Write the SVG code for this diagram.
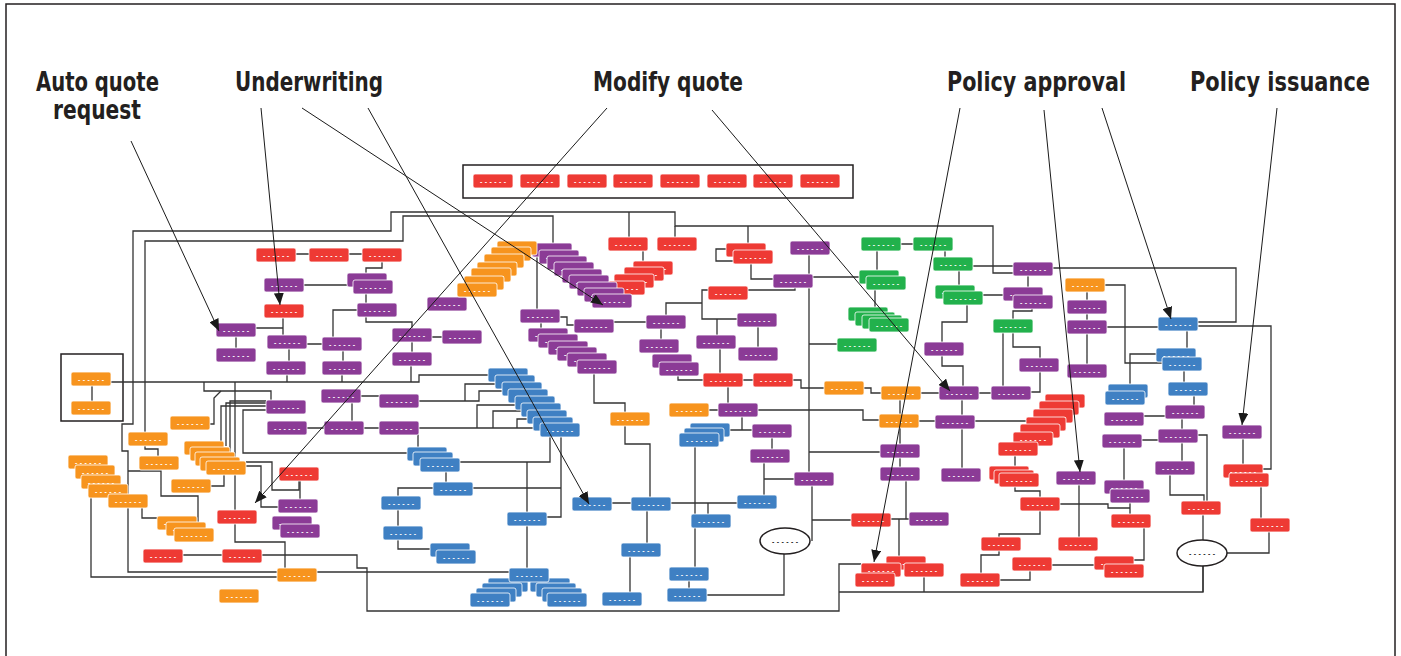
<svg xmlns="http://www.w3.org/2000/svg" width="1401" height="656" viewBox="0 0 1401 656">
<style>
.R{fill:#EE3A34}.P{fill:#8B3B96}.O{fill:#F7941E}.B{fill:#3F80C3}.G{fill:#22B14C}
rect.n{stroke:#fff;stroke-width:.8}
.t{font-family:'Liberation Sans',sans-serif;font-weight:bold;font-size:7px;fill:#fff;letter-spacing:2.4px;text-anchor:middle}
.te{font-family:'Liberation Sans',sans-serif;font-weight:bold;font-size:7px;fill:#222;letter-spacing:2.4px;text-anchor:middle}
#connectors path{fill:none;stroke:#333;stroke-width:1.3}
#pointers path{fill:none;stroke:#1a1a1a;stroke-width:1}
.title{font-family:'Liberation Sans Narrow','DejaVu Sans Condensed','Liberation Sans',sans-serif;font-weight:bold;font-size:27px;fill:#231f20}
.frame{fill:none;stroke:#231f20;stroke-width:1.5}
.ell{fill:#fff;stroke:#231f20;stroke-width:1.5}
</style>
<defs>
<marker id="ah" viewBox="0 0 12 10" refX="12" refY="5" markerWidth="12" markerHeight="10" markerUnits="userSpaceOnUse" orient="auto"><path d="M0 0L12 5L0 10z" fill="#1a1a1a"/></marker>
</defs>
<rect width="1401" height="656" fill="#fff"/>
<rect class="frame" x="6" y="4" width="1389" height="720"/>
<g id="titles">
<text class="title" x="36" y="91" textLength="123" lengthAdjust="spacingAndGlyphs">Auto quote</text>
<text class="title" x="53" y="119" textLength="88" lengthAdjust="spacingAndGlyphs">request</text>
<text class="title" x="235" y="91" textLength="148" lengthAdjust="spacingAndGlyphs">Underwriting</text>
<text class="title" x="593" y="91" textLength="150" lengthAdjust="spacingAndGlyphs">Modify quote</text>
<text class="title" x="947" y="91" textLength="179" lengthAdjust="spacingAndGlyphs">Policy approval</text>
<text class="title" x="1190" y="91" textLength="180" lengthAdjust="spacingAndGlyphs">Policy issuance</text>
</g>
<rect class="frame" x="463" y="165" width="390" height="33"/>
<rect class="frame" x="61" y="354" width="62" height="67"/>
<g id="connectors">
<path d="M1013 273H993V226H675V212H391V231H133V424H122V451H128V572H509"/>
<path d="M675 226V237"/>
<path d="M158 456V449H145V241H403V216H553V243"/>
<path d="M629 212V237M748 226V243"/>
<path d="M296 254H309M349 254H362"/>
<path d="M382 262V268H366V273"/>
<path d="M304 285H347M366 293V303"/>
<path d="M366 317V322H412V328"/>
<path d="M357 310H333V337"/>
<path d="M256 328H283M283 318V335M236 337V348M307 344H322"/>
<path d="M289 348V361M343 351V361M412 342V352M432 337H442"/>
<path d="M111 382H419V375H488"/>
<path d="M287 375V382M342 375V382M411 365V382M92 385V401"/>
<path d="M204 382V391H271V400"/>
<path d="M210 424H214V398L221 391"/>
<path d="M235 382V542H285V568"/>
<path d="M266 406H221V442M266 403H226V446M266 401H230V452"/>
<path d="M266 410H243V453H407"/>
<path d="M361 396H379M352 402V421M307 428H324M364 428H379"/>
<path d="M419 401H479V391H502M465 401V384H495"/>
<path d="M419 428H540M477 428V405H515M493 428V411H521M517 428V419H527"/>
<path d="M418 434V447M460 462H550V437M446 471V482"/>
<path d="M473 488H561V437M561 488V517H547M527 462V568"/>
<path d="M433 488H398V549H430"/>
<path d="M246 462H272V490H299V481M246 466H261V507H278"/>
<path d="M211 486H224V475M128 471H161V496H198V522M142 507V518H157"/>
<path d="M91 497V577H277M183 555H222"/>
<path d="M262 555H357V568H367V611H839V564H861"/>
<path d="M839 592H1203V566M924 577V592M300 481V499"/>
<path d="M537 257V309M560 317H567V325H574M614 322H646M541 323V328M643 250V261"/>
<path d="M666 315V303H702V290H708M702 303V319H737M717 319V335M758 326V347M661 328V339"/>
<path d="M678 375V380H703M743 380H753M793 380H801V388H824M720 349V373M728 387V403"/>
<path d="M594 373V403H625V412M625 426V444H650V497"/>
<path d="M709 410H718M758 410H863V420H879M742 417V430H730M742 430H752M772 438V449"/>
<path d="M764 463V495M764 479H794M612 503H631M671 503H737M695 447V567M708 503V514"/>
<path d="M647 510V543M630 557V592M689 581V588M707 595H784V554"/>
<path d="M809 254V472M809 452H880M812 277H859M809 344H837M812 485V541M812 520H851"/>
<path d="M751 263V279H773M726 249H716V261H733M795 288V290H748"/>
<path d="M877 251V270M901 244H913M945 251V257M875 290V307M973 266H1013M959 271V285M983 295H1003"/>
<path d="M967 305V322H942V342M942 356V366H963V386"/>
<path d="M1032 309V311H1013V319M1003 333V386M1013 333V347H1040V358M1040 372V392H1031M1028 276V287"/>
<path d="M1053 268H1236V322H1198M1198 326H1271V469H1263M1105 285H1125V363H1162"/>
<path d="M1087 292V300M1087 314V320M1087 334V364M1107 327H1158M1187 331V348M1156 354H1130V384"/>
<path d="M1184 371V382M1194 396V405M1144 416H1165M1182 419V429M1142 440H1158M1182 443V461M1124 448V480"/>
<path d="M1198 435H1207V501M1170 475V495H1204V501M1203 515V540M1203 566V592M1227 553H1269V532M1243 439V464M1261 487V518"/>
<path d="M1015 456V466M1015 487V491H1040V497M1060 504H1108V508H1130M1130 503V514"/>
<path d="M1040 511V534H999V537M999 551V555H981V573M1030 571V580H1000M1052 565H1094M1144 528V560H1134M1079 485V537"/>
<path d="M975 421H1026M962 400V415M962 429V468M900 400V414M900 428V444M900 458V467"/>
<path d="M906 481V519M891 519H909M899 519V556M864 388H871V393H881M921 393H939M979 393H991M919 421H935"/>
</g>
<g id="nodes">
<g id="n1"><rect class="n R" x="473" y="174" width="40" height="14" rx="2"/><text class="t" x="494.2" y="183.5">------</text></g>
<g id="n2"><rect class="n R" x="520" y="174" width="40" height="14" rx="2"/><text class="t" x="541.2" y="183.5">------</text></g>
<g id="n3"><rect class="n R" x="567" y="174" width="40" height="14" rx="2"/><text class="t" x="588.2" y="183.5">------</text></g>
<g id="n4"><rect class="n R" x="613" y="174" width="40" height="14" rx="2"/><text class="t" x="634.2" y="183.5">------</text></g>
<g id="n5"><rect class="n R" x="660" y="174" width="40" height="14" rx="2"/><text class="t" x="681.2" y="183.5">------</text></g>
<g id="n6"><rect class="n R" x="707" y="174" width="40" height="14" rx="2"/><text class="t" x="728.2" y="183.5">------</text></g>
<g id="n7"><rect class="n R" x="753" y="174" width="40" height="14" rx="2"/><text class="t" x="774.2" y="183.5">------</text></g>
<g id="n8"><rect class="n R" x="800" y="174" width="40" height="14" rx="2"/><text class="t" x="821.2" y="183.5">------</text></g>
<g id="n9"><rect class="n R" x="256" y="248" width="40" height="14" rx="2"/><text class="t" x="277.2" y="257.5">------</text></g>
<g id="n10"><rect class="n R" x="309" y="248" width="40" height="14" rx="2"/><text class="t" x="330.2" y="257.5">------</text></g>
<g id="n11"><rect class="n R" x="362" y="248" width="40" height="14" rx="2"/><text class="t" x="383.2" y="257.5">------</text></g>
<g id="n12"><rect class="n R" x="264" y="304" width="40" height="14" rx="2"/><text class="t" x="285.2" y="313.5">------</text></g>
<g id="n13"><rect class="n R" x="279" y="467" width="40" height="14" rx="2"/><text class="t" x="300.2" y="476.5">------</text></g>
<g id="n14"><rect class="n R" x="217" y="510" width="40" height="14" rx="2"/><text class="t" x="238.2" y="519.5">------</text></g>
<g id="n15"><rect class="n R" x="143" y="549" width="40" height="14" rx="2"/><text class="t" x="164.2" y="558.5">------</text></g>
<g id="n16"><rect class="n R" x="222" y="549" width="40" height="14" rx="2"/><text class="t" x="243.2" y="558.5">------</text></g>
<g id="n17"><rect class="n R" x="608" y="237" width="40" height="14" rx="2"/><text class="t" x="629.2" y="246.5">------</text></g>
<g id="n18"><rect class="n R" x="657" y="237" width="40" height="14" rx="2"/><text class="t" x="678.2" y="246.5">------</text></g>
<g id="n19"><rect class="n R" x="633" y="261" width="40" height="14" rx="2"/><text class="t" x="654.2" y="270.5">------</text></g>
<g id="n20"><rect class="n R" x="624" y="267" width="40" height="14" rx="2"/><text class="t" x="645.2" y="276.5">------</text></g>
<g id="n21"><rect class="n R" x="614" y="274" width="40" height="14" rx="2"/><text class="t" x="635.2" y="283.5">------</text></g>
<g id="n22"><rect class="n R" x="605" y="281" width="40" height="14" rx="2"/><text class="t" x="626.2" y="290.5">------</text></g>
<g id="n23"><rect class="n R" x="726" y="243" width="40" height="14" rx="2"/><text class="t" x="747.2" y="252.5">------</text></g>
<g id="n24"><rect class="n R" x="733" y="250" width="40" height="14" rx="2"/><text class="t" x="754.2" y="259.5">------</text></g>
<g id="n25"><rect class="n R" x="708" y="286" width="40" height="14" rx="2"/><text class="t" x="729.2" y="295.5">------</text></g>
<g id="n26"><rect class="n R" x="703" y="373" width="40" height="14" rx="2"/><text class="t" x="724.2" y="382.5">------</text></g>
<g id="n27"><rect class="n R" x="753" y="373" width="40" height="14" rx="2"/><text class="t" x="774.2" y="382.5">------</text></g>
<g id="n28"><rect class="n R" x="1045" y="394" width="40" height="14" rx="2"/><text class="t" x="1066.2" y="403.5">------</text></g>
<g id="n29"><rect class="n R" x="1039" y="401" width="40" height="14" rx="2"/><text class="t" x="1060.2" y="410.5">------</text></g>
<g id="n30"><rect class="n R" x="1033" y="409" width="40" height="14" rx="2"/><text class="t" x="1054.2" y="418.5">------</text></g>
<g id="n31"><rect class="n R" x="1026" y="417" width="40" height="14" rx="2"/><text class="t" x="1047.2" y="426.5">------</text></g>
<g id="n32"><rect class="n R" x="1020" y="424" width="40" height="14" rx="2"/><text class="t" x="1041.2" y="433.5">------</text></g>
<g id="n33"><rect class="n R" x="1013" y="432" width="40" height="14" rx="2"/><text class="t" x="1034.2" y="441.5">------</text></g>
<g id="n34"><rect class="n R" x="998" y="442" width="40" height="14" rx="2"/><text class="t" x="1019.2" y="451.5">------</text></g>
<g id="n35"><rect class="n R" x="989" y="466" width="40" height="14" rx="2"/><text class="t" x="1010.2" y="475.5">------</text></g>
<g id="n36"><rect class="n R" x="994" y="470" width="40" height="14" rx="2"/><text class="t" x="1015.2" y="479.5">------</text></g>
<g id="n37"><rect class="n R" x="999" y="473" width="40" height="14" rx="2"/><text class="t" x="1020.2" y="482.5">------</text></g>
<g id="n38"><rect class="n R" x="1020" y="497" width="40" height="14" rx="2"/><text class="t" x="1041.2" y="506.5">------</text></g>
<g id="n39"><rect class="n R" x="981" y="537" width="40" height="14" rx="2"/><text class="t" x="1002.2" y="546.5">------</text></g>
<g id="n40"><rect class="n R" x="1058" y="537" width="40" height="14" rx="2"/><text class="t" x="1079.2" y="546.5">------</text></g>
<g id="n41"><rect class="n R" x="1012" y="557" width="40" height="14" rx="2"/><text class="t" x="1033.2" y="566.5">------</text></g>
<g id="n42"><rect class="n R" x="960" y="573" width="40" height="14" rx="2"/><text class="t" x="981.2" y="582.5">------</text></g>
<g id="n43"><rect class="n R" x="1094" y="556" width="40" height="14" rx="2"/><text class="t" x="1115.2" y="565.5">------</text></g>
<g id="n44"><rect class="n R" x="1104" y="564" width="40" height="14" rx="2"/><text class="t" x="1125.2" y="573.5">------</text></g>
<g id="n45"><rect class="n R" x="1111" y="514" width="40" height="14" rx="2"/><text class="t" x="1132.2" y="523.5">------</text></g>
<g id="n46"><rect class="n R" x="1181" y="501" width="40" height="14" rx="2"/><text class="t" x="1202.2" y="510.5">------</text></g>
<g id="n47"><rect class="n R" x="1223" y="464" width="40" height="14" rx="2"/><text class="t" x="1244.2" y="473.5">------</text></g>
<g id="n48"><rect class="n R" x="1229" y="473" width="40" height="14" rx="2"/><text class="t" x="1250.2" y="482.5">------</text></g>
<g id="n49"><rect class="n R" x="1250" y="518" width="40" height="14" rx="2"/><text class="t" x="1271.2" y="527.5">------</text></g>
<g id="n50"><rect class="n R" x="851" y="513" width="40" height="14" rx="2"/><text class="t" x="872.2" y="522.5">------</text></g>
<g id="n51"><rect class="n R" x="886" y="556" width="40" height="14" rx="2"/><text class="t" x="907.2" y="565.5">------</text></g>
<g id="n52"><rect class="n R" x="861" y="563" width="40" height="14" rx="2"/><text class="t" x="882.2" y="572.5">------</text></g>
<g id="n53"><rect class="n R" x="904" y="563" width="40" height="14" rx="2"/><text class="t" x="925.2" y="572.5">------</text></g>
<g id="n54"><rect class="n R" x="855" y="573" width="40" height="14" rx="2"/><text class="t" x="876.2" y="582.5">------</text></g>
<g id="n55"><rect class="n P" x="264" y="278" width="40" height="14" rx="2"/><text class="t" x="285.2" y="287.5">------</text></g>
<g id="n56"><rect class="n P" x="347" y="273" width="40" height="14" rx="2"/><text class="t" x="368.2" y="282.5">------</text></g>
<g id="n57"><rect class="n P" x="353" y="280" width="40" height="14" rx="2"/><text class="t" x="374.2" y="289.5">------</text></g>
<g id="n58"><rect class="n P" x="357" y="303" width="40" height="14" rx="2"/><text class="t" x="378.2" y="312.5">------</text></g>
<g id="n59"><rect class="n P" x="216" y="323" width="40" height="14" rx="2"/><text class="t" x="237.2" y="332.5">------</text></g>
<g id="n60"><rect class="n P" x="216" y="348" width="40" height="14" rx="2"/><text class="t" x="237.2" y="357.5">------</text></g>
<g id="n61"><rect class="n P" x="267" y="335" width="40" height="14" rx="2"/><text class="t" x="288.2" y="344.5">------</text></g>
<g id="n62"><rect class="n P" x="322" y="337" width="40" height="14" rx="2"/><text class="t" x="343.2" y="346.5">------</text></g>
<g id="n63"><rect class="n P" x="266" y="361" width="40" height="14" rx="2"/><text class="t" x="287.2" y="370.5">------</text></g>
<g id="n64"><rect class="n P" x="322" y="361" width="40" height="14" rx="2"/><text class="t" x="343.2" y="370.5">------</text></g>
<g id="n65"><rect class="n P" x="392" y="328" width="40" height="14" rx="2"/><text class="t" x="413.2" y="337.5">------</text></g>
<g id="n66"><rect class="n P" x="442" y="330" width="40" height="14" rx="2"/><text class="t" x="463.2" y="339.5">------</text></g>
<g id="n67"><rect class="n P" x="392" y="352" width="40" height="14" rx="2"/><text class="t" x="413.2" y="361.5">------</text></g>
<g id="n68"><rect class="n P" x="427" y="297" width="40" height="14" rx="2"/><text class="t" x="448.2" y="306.5">------</text></g>
<g id="n69"><rect class="n P" x="321" y="389" width="40" height="14" rx="2"/><text class="t" x="342.2" y="398.5">------</text></g>
<g id="n70"><rect class="n P" x="379" y="394" width="40" height="14" rx="2"/><text class="t" x="400.2" y="403.5">------</text></g>
<g id="n71"><rect class="n P" x="266" y="400" width="40" height="14" rx="2"/><text class="t" x="287.2" y="409.5">------</text></g>
<g id="n72"><rect class="n P" x="267" y="421" width="40" height="14" rx="2"/><text class="t" x="288.2" y="430.5">------</text></g>
<g id="n73"><rect class="n P" x="324" y="421" width="40" height="14" rx="2"/><text class="t" x="345.2" y="430.5">------</text></g>
<g id="n74"><rect class="n P" x="379" y="421" width="40" height="14" rx="2"/><text class="t" x="400.2" y="430.5">------</text></g>
<g id="n75"><rect class="n P" x="278" y="499" width="40" height="14" rx="2"/><text class="t" x="299.2" y="508.5">------</text></g>
<g id="n76"><rect class="n P" x="272" y="516" width="40" height="14" rx="2"/><text class="t" x="293.2" y="525.5">------</text></g>
<g id="n77"><rect class="n P" x="280" y="524" width="40" height="14" rx="2"/><text class="t" x="301.2" y="533.5">------</text></g>
<g id="n78"><rect class="n P" x="532" y="243" width="40" height="14" rx="2"/><text class="t" x="553.2" y="252.5">------</text></g>
<g id="n79"><rect class="n P" x="539" y="250" width="40" height="14" rx="2"/><text class="t" x="560.2" y="259.5">------</text></g>
<g id="n80"><rect class="n P" x="547" y="256" width="40" height="14" rx="2"/><text class="t" x="568.2" y="265.5">------</text></g>
<g id="n81"><rect class="n P" x="554" y="262" width="40" height="14" rx="2"/><text class="t" x="575.2" y="271.5">------</text></g>
<g id="n82"><rect class="n P" x="562" y="269" width="40" height="14" rx="2"/><text class="t" x="583.2" y="278.5">------</text></g>
<g id="n83"><rect class="n P" x="569" y="275" width="40" height="14" rx="2"/><text class="t" x="590.2" y="284.5">------</text></g>
<g id="n84"><rect class="n P" x="577" y="282" width="40" height="14" rx="2"/><text class="t" x="598.2" y="291.5">------</text></g>
<g id="n85"><rect class="n P" x="584" y="288" width="40" height="14" rx="2"/><text class="t" x="605.2" y="297.5">------</text></g>
<g id="n86"><rect class="n P" x="592" y="294" width="40" height="14" rx="2"/><text class="t" x="613.2" y="303.5">------</text></g>
<g id="n87"><rect class="n P" x="520" y="309" width="40" height="14" rx="2"/><text class="t" x="541.2" y="318.5">------</text></g>
<g id="n88"><rect class="n P" x="574" y="319" width="40" height="14" rx="2"/><text class="t" x="595.2" y="328.5">------</text></g>
<g id="n89"><rect class="n P" x="646" y="315" width="40" height="14" rx="2"/><text class="t" x="667.2" y="324.5">------</text></g>
<g id="n90"><rect class="n P" x="528" y="328" width="40" height="14" rx="2"/><text class="t" x="549.2" y="337.5">------</text></g>
<g id="n91"><rect class="n P" x="538" y="334" width="40" height="14" rx="2"/><text class="t" x="559.2" y="343.5">------</text></g>
<g id="n92"><rect class="n P" x="548" y="341" width="40" height="14" rx="2"/><text class="t" x="569.2" y="350.5">------</text></g>
<g id="n93"><rect class="n P" x="557" y="347" width="40" height="14" rx="2"/><text class="t" x="578.2" y="356.5">------</text></g>
<g id="n94"><rect class="n P" x="567" y="353" width="40" height="14" rx="2"/><text class="t" x="588.2" y="362.5">------</text></g>
<g id="n95"><rect class="n P" x="577" y="360" width="40" height="14" rx="2"/><text class="t" x="598.2" y="369.5">------</text></g>
<g id="n96"><rect class="n P" x="639" y="339" width="40" height="14" rx="2"/><text class="t" x="660.2" y="348.5">------</text></g>
<g id="n97"><rect class="n P" x="652" y="354" width="40" height="14" rx="2"/><text class="t" x="673.2" y="363.5">------</text></g>
<g id="n98"><rect class="n P" x="659" y="362" width="40" height="14" rx="2"/><text class="t" x="680.2" y="371.5">------</text></g>
<g id="n99"><rect class="n P" x="696" y="335" width="40" height="14" rx="2"/><text class="t" x="717.2" y="344.5">------</text></g>
<g id="n100"><rect class="n P" x="737" y="313" width="40" height="14" rx="2"/><text class="t" x="758.2" y="322.5">------</text></g>
<g id="n101"><rect class="n P" x="738" y="347" width="40" height="14" rx="2"/><text class="t" x="759.2" y="356.5">------</text></g>
<g id="n102"><rect class="n P" x="790" y="241" width="40" height="14" rx="2"/><text class="t" x="811.2" y="250.5">------</text></g>
<g id="n103"><rect class="n P" x="773" y="274" width="40" height="14" rx="2"/><text class="t" x="794.2" y="283.5">------</text></g>
<g id="n104"><rect class="n P" x="718" y="403" width="40" height="14" rx="2"/><text class="t" x="739.2" y="412.5">------</text></g>
<g id="n105"><rect class="n P" x="752" y="424" width="40" height="14" rx="2"/><text class="t" x="773.2" y="433.5">------</text></g>
<g id="n106"><rect class="n P" x="750" y="449" width="40" height="14" rx="2"/><text class="t" x="771.2" y="458.5">------</text></g>
<g id="n107"><rect class="n P" x="794" y="472" width="40" height="14" rx="2"/><text class="t" x="815.2" y="481.5">------</text></g>
<g id="n108"><rect class="n P" x="924" y="342" width="40" height="14" rx="2"/><text class="t" x="945.2" y="351.5">------</text></g>
<g id="n109"><rect class="n P" x="939" y="386" width="40" height="14" rx="2"/><text class="t" x="960.2" y="395.5">------</text></g>
<g id="n110"><rect class="n P" x="991" y="386" width="40" height="14" rx="2"/><text class="t" x="1012.2" y="395.5">------</text></g>
<g id="n111"><rect class="n P" x="935" y="415" width="40" height="14" rx="2"/><text class="t" x="956.2" y="424.5">------</text></g>
<g id="n112"><rect class="n P" x="880" y="444" width="40" height="14" rx="2"/><text class="t" x="901.2" y="453.5">------</text></g>
<g id="n113"><rect class="n P" x="880" y="467" width="40" height="14" rx="2"/><text class="t" x="901.2" y="476.5">------</text></g>
<g id="n114"><rect class="n P" x="941" y="468" width="40" height="14" rx="2"/><text class="t" x="962.2" y="477.5">------</text></g>
<g id="n115"><rect class="n P" x="909" y="512" width="40" height="14" rx="2"/><text class="t" x="930.2" y="521.5">------</text></g>
<g id="n116"><rect class="n P" x="1013" y="262" width="40" height="14" rx="2"/><text class="t" x="1034.2" y="271.5">------</text></g>
<g id="n117"><rect class="n P" x="1003" y="287" width="40" height="14" rx="2"/><text class="t" x="1024.2" y="296.5">------</text></g>
<g id="n118"><rect class="n P" x="1013" y="295" width="40" height="14" rx="2"/><text class="t" x="1034.2" y="304.5">------</text></g>
<g id="n119"><rect class="n P" x="1019" y="358" width="40" height="14" rx="2"/><text class="t" x="1040.2" y="367.5">------</text></g>
<g id="n120"><rect class="n P" x="1067" y="300" width="40" height="14" rx="2"/><text class="t" x="1088.2" y="309.5">------</text></g>
<g id="n121"><rect class="n P" x="1067" y="320" width="40" height="14" rx="2"/><text class="t" x="1088.2" y="329.5">------</text></g>
<g id="n122"><rect class="n P" x="1067" y="364" width="40" height="14" rx="2"/><text class="t" x="1088.2" y="373.5">------</text></g>
<g id="n123"><rect class="n P" x="1165" y="405" width="40" height="14" rx="2"/><text class="t" x="1186.2" y="414.5">------</text></g>
<g id="n124"><rect class="n P" x="1104" y="412" width="40" height="14" rx="2"/><text class="t" x="1125.2" y="421.5">------</text></g>
<g id="n125"><rect class="n P" x="1158" y="429" width="40" height="14" rx="2"/><text class="t" x="1179.2" y="438.5">------</text></g>
<g id="n126"><rect class="n P" x="1102" y="434" width="40" height="14" rx="2"/><text class="t" x="1123.2" y="443.5">------</text></g>
<g id="n127"><rect class="n P" x="1155" y="461" width="40" height="14" rx="2"/><text class="t" x="1176.2" y="470.5">------</text></g>
<g id="n128"><rect class="n P" x="1104" y="480" width="40" height="14" rx="2"/><text class="t" x="1125.2" y="489.5">------</text></g>
<g id="n129"><rect class="n P" x="1110" y="489" width="40" height="14" rx="2"/><text class="t" x="1131.2" y="498.5">------</text></g>
<g id="n130"><rect class="n P" x="1056" y="471" width="40" height="14" rx="2"/><text class="t" x="1077.2" y="480.5">------</text></g>
<g id="n131"><rect class="n P" x="1222" y="425" width="40" height="14" rx="2"/><text class="t" x="1243.2" y="434.5">------</text></g>
<g id="n132"><rect class="n O" x="497" y="241" width="40" height="14" rx="2"/><text class="t" x="518.2" y="250.5">------</text></g>
<g id="n133"><rect class="n O" x="491" y="247" width="40" height="14" rx="2"/><text class="t" x="512.2" y="256.5">------</text></g>
<g id="n134"><rect class="n O" x="484" y="254" width="40" height="14" rx="2"/><text class="t" x="505.2" y="263.5">------</text></g>
<g id="n135"><rect class="n O" x="477" y="262" width="40" height="14" rx="2"/><text class="t" x="498.2" y="271.5">------</text></g>
<g id="n136"><rect class="n O" x="471" y="268" width="40" height="14" rx="2"/><text class="t" x="492.2" y="277.5">------</text></g>
<g id="n137"><rect class="n O" x="464" y="276" width="40" height="14" rx="2"/><text class="t" x="485.2" y="285.5">------</text></g>
<g id="n138"><rect class="n O" x="457" y="283" width="40" height="14" rx="2"/><text class="t" x="478.2" y="292.5">------</text></g>
<g id="n139"><rect class="n O" x="71" y="372" width="40" height="14" rx="2"/><text class="t" x="92.2" y="381.5">------</text></g>
<g id="n140"><rect class="n O" x="71" y="401" width="40" height="14" rx="2"/><text class="t" x="92.2" y="410.5">------</text></g>
<g id="n141"><rect class="n O" x="170" y="416" width="40" height="14" rx="2"/><text class="t" x="191.2" y="425.5">------</text></g>
<g id="n142"><rect class="n O" x="128" y="432" width="40" height="14" rx="2"/><text class="t" x="149.2" y="441.5">------</text></g>
<g id="n143"><rect class="n O" x="139" y="456" width="40" height="14" rx="2"/><text class="t" x="160.2" y="465.5">------</text></g>
<g id="n144"><rect class="n O" x="171" y="479" width="40" height="14" rx="2"/><text class="t" x="192.2" y="488.5">------</text></g>
<g id="n145"><rect class="n O" x="184" y="441" width="40" height="14" rx="2"/><text class="t" x="205.2" y="450.5">------</text></g>
<g id="n146"><rect class="n O" x="190" y="447" width="40" height="14" rx="2"/><text class="t" x="211.2" y="456.5">------</text></g>
<g id="n147"><rect class="n O" x="195" y="452" width="40" height="14" rx="2"/><text class="t" x="216.2" y="461.5">------</text></g>
<g id="n148"><rect class="n O" x="200" y="457" width="40" height="14" rx="2"/><text class="t" x="221.2" y="466.5">------</text></g>
<g id="n149"><rect class="n O" x="206" y="461" width="40" height="14" rx="2"/><text class="t" x="227.2" y="470.5">------</text></g>
<g id="n150"><rect class="n O" x="68" y="455" width="40" height="14" rx="2"/><text class="t" x="89.2" y="464.5">------</text></g>
<g id="n151"><rect class="n O" x="75" y="465" width="40" height="14" rx="2"/><text class="t" x="96.2" y="474.5">------</text></g>
<g id="n152"><rect class="n O" x="81" y="475" width="40" height="14" rx="2"/><text class="t" x="102.2" y="484.5">------</text></g>
<g id="n153"><rect class="n O" x="88" y="484" width="40" height="14" rx="2"/><text class="t" x="109.2" y="493.5">------</text></g>
<g id="n154"><rect class="n O" x="108" y="494" width="40" height="14" rx="2"/><text class="t" x="129.2" y="503.5">------</text></g>
<g id="n155"><rect class="n O" x="157" y="516" width="40" height="14" rx="2"/><text class="t" x="178.2" y="525.5">------</text></g>
<g id="n156"><rect class="n O" x="166" y="522" width="40" height="14" rx="2"/><text class="t" x="187.2" y="531.5">------</text></g>
<g id="n157"><rect class="n O" x="174" y="528" width="40" height="14" rx="2"/><text class="t" x="195.2" y="537.5">------</text></g>
<g id="n158"><rect class="n O" x="277" y="568" width="40" height="14" rx="2"/><text class="t" x="298.2" y="577.5">------</text></g>
<g id="n159"><rect class="n O" x="219" y="589" width="40" height="14" rx="2"/><text class="t" x="240.2" y="598.5">------</text></g>
<g id="n160"><rect class="n O" x="610" y="412" width="40" height="14" rx="2"/><text class="t" x="631.2" y="421.5">------</text></g>
<g id="n161"><rect class="n O" x="669" y="403" width="40" height="14" rx="2"/><text class="t" x="690.2" y="412.5">------</text></g>
<g id="n162"><rect class="n O" x="824" y="381" width="40" height="14" rx="2"/><text class="t" x="845.2" y="390.5">------</text></g>
<g id="n163"><rect class="n O" x="881" y="386" width="40" height="14" rx="2"/><text class="t" x="902.2" y="395.5">------</text></g>
<g id="n164"><rect class="n O" x="879" y="414" width="40" height="14" rx="2"/><text class="t" x="900.2" y="423.5">------</text></g>
<g id="n165"><rect class="n O" x="1065" y="278" width="40" height="14" rx="2"/><text class="t" x="1086.2" y="287.5">------</text></g>
<g id="n166"><rect class="n B" x="488" y="368" width="40" height="14" rx="2"/><text class="t" x="509.2" y="377.5">------</text></g>
<g id="n167"><rect class="n B" x="495" y="375" width="40" height="14" rx="2"/><text class="t" x="516.2" y="384.5">------</text></g>
<g id="n168"><rect class="n B" x="502" y="382" width="40" height="14" rx="2"/><text class="t" x="523.2" y="391.5">------</text></g>
<g id="n169"><rect class="n B" x="508" y="389" width="40" height="14" rx="2"/><text class="t" x="529.2" y="398.5">------</text></g>
<g id="n170"><rect class="n B" x="515" y="396" width="40" height="14" rx="2"/><text class="t" x="536.2" y="405.5">------</text></g>
<g id="n171"><rect class="n B" x="521" y="403" width="40" height="14" rx="2"/><text class="t" x="542.2" y="412.5">------</text></g>
<g id="n172"><rect class="n B" x="527" y="410" width="40" height="14" rx="2"/><text class="t" x="548.2" y="419.5">------</text></g>
<g id="n173"><rect class="n B" x="533" y="417" width="40" height="14" rx="2"/><text class="t" x="554.2" y="426.5">------</text></g>
<g id="n174"><rect class="n B" x="540" y="423" width="40" height="14" rx="2"/><text class="t" x="561.2" y="432.5">------</text></g>
<g id="n175"><rect class="n B" x="407" y="447" width="40" height="14" rx="2"/><text class="t" x="428.2" y="456.5">------</text></g>
<g id="n176"><rect class="n B" x="413" y="452" width="40" height="14" rx="2"/><text class="t" x="434.2" y="461.5">------</text></g>
<g id="n177"><rect class="n B" x="420" y="458" width="40" height="14" rx="2"/><text class="t" x="441.2" y="467.5">------</text></g>
<g id="n178"><rect class="n B" x="433" y="482" width="40" height="14" rx="2"/><text class="t" x="454.2" y="491.5">------</text></g>
<g id="n179"><rect class="n B" x="381" y="496" width="40" height="14" rx="2"/><text class="t" x="402.2" y="505.5">------</text></g>
<g id="n180"><rect class="n B" x="383" y="526" width="40" height="14" rx="2"/><text class="t" x="404.2" y="535.5">------</text></g>
<g id="n181"><rect class="n B" x="430" y="543" width="40" height="14" rx="2"/><text class="t" x="451.2" y="552.5">------</text></g>
<g id="n182"><rect class="n B" x="436" y="550" width="40" height="14" rx="2"/><text class="t" x="457.2" y="559.5">------</text></g>
<g id="n183"><rect class="n B" x="507" y="512" width="40" height="14" rx="2"/><text class="t" x="528.2" y="521.5">------</text></g>
<g id="n184"><rect class="n B" x="488" y="578" width="40" height="14" rx="2"/><text class="t" x="509.2" y="587.5">------</text></g>
<g id="n185"><rect class="n B" x="482" y="583" width="40" height="14" rx="2"/><text class="t" x="503.2" y="592.5">------</text></g>
<g id="n186"><rect class="n B" x="476" y="588" width="40" height="14" rx="2"/><text class="t" x="497.2" y="597.5">------</text></g>
<g id="n187"><rect class="n B" x="470" y="593" width="40" height="14" rx="2"/><text class="t" x="491.2" y="602.5">------</text></g>
<g id="n188"><rect class="n B" x="530" y="578" width="40" height="14" rx="2"/><text class="t" x="551.2" y="587.5">------</text></g>
<g id="n189"><rect class="n B" x="536" y="583" width="40" height="14" rx="2"/><text class="t" x="557.2" y="592.5">------</text></g>
<g id="n190"><rect class="n B" x="542" y="588" width="40" height="14" rx="2"/><text class="t" x="563.2" y="597.5">------</text></g>
<g id="n191"><rect class="n B" x="547" y="593" width="40" height="14" rx="2"/><text class="t" x="568.2" y="602.5">------</text></g>
<g id="n192"><rect class="n B" x="509" y="568" width="40" height="14" rx="2"/><text class="t" x="530.2" y="577.5">------</text></g>
<g id="n193"><rect class="n B" x="572" y="497" width="40" height="14" rx="2"/><text class="t" x="593.2" y="506.5">------</text></g>
<g id="n194"><rect class="n B" x="631" y="497" width="40" height="14" rx="2"/><text class="t" x="652.2" y="506.5">------</text></g>
<g id="n195"><rect class="n B" x="621" y="543" width="40" height="14" rx="2"/><text class="t" x="642.2" y="552.5">------</text></g>
<g id="n196"><rect class="n B" x="602" y="592" width="40" height="14" rx="2"/><text class="t" x="623.2" y="601.5">------</text></g>
<g id="n197"><rect class="n B" x="690" y="423" width="40" height="14" rx="2"/><text class="t" x="711.2" y="432.5">------</text></g>
<g id="n198"><rect class="n B" x="684" y="428" width="40" height="14" rx="2"/><text class="t" x="705.2" y="437.5">------</text></g>
<g id="n199"><rect class="n B" x="679" y="433" width="40" height="14" rx="2"/><text class="t" x="700.2" y="442.5">------</text></g>
<g id="n200"><rect class="n B" x="691" y="514" width="40" height="14" rx="2"/><text class="t" x="712.2" y="523.5">------</text></g>
<g id="n201"><rect class="n B" x="737" y="495" width="40" height="14" rx="2"/><text class="t" x="758.2" y="504.5">------</text></g>
<g id="n202"><rect class="n B" x="669" y="567" width="40" height="14" rx="2"/><text class="t" x="690.2" y="576.5">------</text></g>
<g id="n203"><rect class="n B" x="667" y="588" width="40" height="14" rx="2"/><text class="t" x="688.2" y="597.5">------</text></g>
<g id="n204"><rect class="n B" x="1158" y="317" width="40" height="14" rx="2"/><text class="t" x="1179.2" y="326.5">------</text></g>
<g id="n205"><rect class="n B" x="1156" y="348" width="40" height="14" rx="2"/><text class="t" x="1177.2" y="357.5">------</text></g>
<g id="n206"><rect class="n B" x="1162" y="357" width="40" height="14" rx="2"/><text class="t" x="1183.2" y="366.5">------</text></g>
<g id="n207"><rect class="n B" x="1168" y="382" width="40" height="14" rx="2"/><text class="t" x="1189.2" y="391.5">------</text></g>
<g id="n208"><rect class="n B" x="1108" y="384" width="40" height="14" rx="2"/><text class="t" x="1129.2" y="393.5">------</text></g>
<g id="n209"><rect class="n B" x="1105" y="391" width="40" height="14" rx="2"/><text class="t" x="1126.2" y="400.5">------</text></g>
<g id="n210"><rect class="n G" x="861" y="237" width="40" height="14" rx="2"/><text class="t" x="882.2" y="246.5">------</text></g>
<g id="n211"><rect class="n G" x="913" y="237" width="40" height="14" rx="2"/><text class="t" x="934.2" y="246.5">------</text></g>
<g id="n212"><rect class="n G" x="859" y="270" width="40" height="14" rx="2"/><text class="t" x="880.2" y="279.5">------</text></g>
<g id="n213"><rect class="n G" x="866" y="276" width="40" height="14" rx="2"/><text class="t" x="887.2" y="285.5">------</text></g>
<g id="n214"><rect class="n G" x="848" y="307" width="40" height="14" rx="2"/><text class="t" x="869.2" y="316.5">------</text></g>
<g id="n215"><rect class="n G" x="855" y="312" width="40" height="14" rx="2"/><text class="t" x="876.2" y="321.5">------</text></g>
<g id="n216"><rect class="n G" x="862" y="315" width="40" height="14" rx="2"/><text class="t" x="883.2" y="324.5">------</text></g>
<g id="n217"><rect class="n G" x="869" y="318" width="40" height="14" rx="2"/><text class="t" x="890.2" y="327.5">------</text></g>
<g id="n218"><rect class="n G" x="837" y="338" width="40" height="14" rx="2"/><text class="t" x="858.2" y="347.5">------</text></g>
<g id="n219"><rect class="n G" x="933" y="257" width="40" height="14" rx="2"/><text class="t" x="954.2" y="266.5">------</text></g>
<g id="n220"><rect class="n G" x="935" y="285" width="40" height="14" rx="2"/><text class="t" x="956.2" y="294.5">------</text></g>
<g id="n221"><rect class="n G" x="943" y="291" width="40" height="14" rx="2"/><text class="t" x="964.2" y="300.5">------</text></g>
<g id="n222"><rect class="n G" x="993" y="319" width="40" height="14" rx="2"/><text class="t" x="1014.2" y="328.5">------</text></g>
<g id="n223"><ellipse class="ell" cx="785" cy="541" rx="25" ry="13"/><text class="te" x="786.2" y="543.5">------</text></g>
<g id="n224"><ellipse class="ell" cx="1202" cy="553" rx="25" ry="13"/><text class="te" x="1203.2" y="555.5">------</text></g>
</g>
<g id="pointers">
<path d="M131 141L219 331" marker-end="url(#ah)"/>
<path d="M261 108L280 305" marker-end="url(#ah)"/>
<path d="M302 108L603 305" marker-end="url(#ah)"/>
<path d="M368 108L589 504" marker-end="url(#ah)"/>
<path d="M607 108L255 503" marker-end="url(#ah)"/>
<path d="M712 110L950 391" marker-end="url(#ah)"/>
<path d="M960 108L874 562" marker-end="url(#ah)"/>
<path d="M1044 110L1080 472" marker-end="url(#ah)"/>
<path d="M1102 108L1171 319" marker-end="url(#ah)"/>
<path d="M1277 108L1242 425" marker-end="url(#ah)"/>
</g>
</svg>
